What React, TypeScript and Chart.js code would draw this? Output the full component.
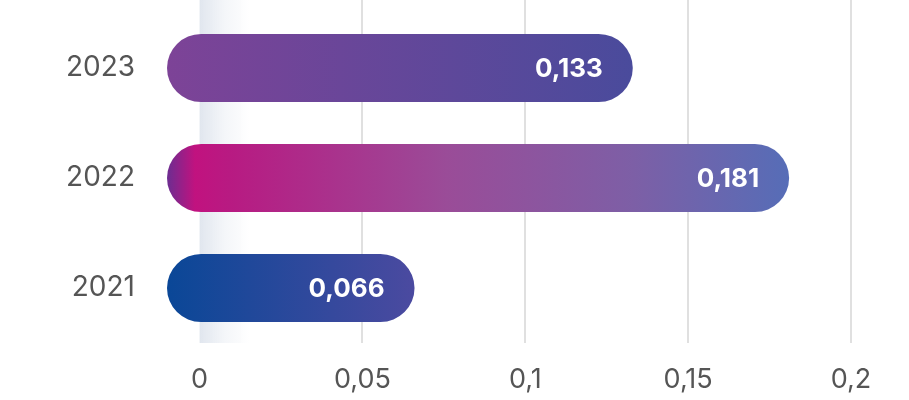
import React, { useEffect, useRef } from "react";
import { Chart, registerables } from "chart.js";

Chart.register(...registerables);

const categories = ["2023", "2022", "2021"];
const values = [0.133, 0.181, 0.066];
const xTickValues = [0, 0.05, 0.1, 0.15, 0.2];
const X_MIN = -0.01;
const X_MAX = 0.2;

const gradientStops: [number, string][][] = [
  [
    [0, "#7d4397"],
    [1, "#4a4b9c"],
  ],
  [
    [0, "#6c2d91"],
    [0.045, "#c1127f"],
    [0.1, "#b81a82"],
    [0.45, "#9a4c98"],
    [0.75, "#7d5fa6"],
    [1, "#566db7"],
  ],
  [
    [0, "#0a4797"],
    [1, "#4b4aa0"],
  ],
];

const fmt = (v: number) => String(v).replace(".", ",");

const FONT = "Inter, 'Noto Sans', sans-serif";

export default function App() {
  const ref = useRef<HTMLCanvasElement | null>(null);

  useEffect(() => {
    document.body.style.margin = "0";
    const canvas = ref.current;
    if (!canvas) return;

    const decor = {
      id: "decor",
      beforeDatasetsDraw(chart: any) {
        const { ctx, chartArea, scales } = chart;
        const xs = scales.x;
        const x0 = xs.getPixelForValue(0);
        ctx.save();
        const g = ctx.createLinearGradient(x0, 0, x0 + 50, 0);
        g.addColorStop(0, "rgba(200,210,225,0.55)");
        g.addColorStop(0.5, "rgba(200,210,225,0.2)");
        g.addColorStop(1, "rgba(200,210,225,0)");
        ctx.fillStyle = g;
        ctx.fillRect(x0, 0, 50, chartArea.bottom);
        ctx.strokeStyle = "#e0e0e0";
        ctx.lineWidth = 2;
        xTickValues.forEach((v) => {
          if (v === 0) return;
          const x = Math.round(xs.getPixelForValue(v));
          ctx.beginPath();
          ctx.moveTo(x, 0);
          ctx.lineTo(x, chartArea.bottom);
          ctx.stroke();
        });
        ctx.restore();
      },
      afterDatasetsDraw(chart: any) {
        const { ctx } = chart;
        const meta = chart.getDatasetMeta(0);
        ctx.save();
        ctx.fillStyle = "#ffffff";
        ctx.font = `700 26px ${FONT}`;
        ctx.textAlign = "right";
        ctx.textBaseline = "middle";
        meta.data.forEach((el: any, i: number) => {
          ctx.fillText(fmt(values[i]), el.x - 30, el.y + 1);
        });
        ctx.restore();
      },
    };

    const chart = new Chart(canvas, {
      type: "bar",
      data: {
        labels: categories,
        datasets: [
          {
            data: values,
            base: X_MIN,
            barPercentage: 0.62,
            categoryPercentage: 1,
            borderRadius: 40,
            borderSkipped: false,
            backgroundColor: (c: any) => {
              const chart = c.chart;
              const { chartArea, scales } = chart;
              if (!chartArea || !scales.x || c.dataIndex === undefined) return "#7d4397";
              const x0 = scales.x.getPixelForValue(X_MIN);
              const x1 = scales.x.getPixelForValue(values[c.dataIndex]);
              const g = chart.ctx.createLinearGradient(x0, 0, x1, 0);
              gradientStops[c.dataIndex].forEach(([o, col]) => g.addColorStop(o, col));
              return g;
            },
          } as any,
        ],
      },
      options: {
        indexAxis: "y",
        animation: false,
        responsive: false,
        maintainAspectRatio: false,
        layout: { padding: { top: 13, right: 58, left: 0, bottom: 0 } },
        plugins: {
          legend: { display: false },
          tooltip: { enabled: false },
        },
        scales: {
          x: {
            type: "linear",
            min: X_MIN,
            max: X_MAX,
            grid: { display: false, drawTicks: false },
            border: { display: false },
            afterBuildTicks: (s: any) => {
              s.ticks = xTickValues.map((v) => ({ value: v }));
            },
            afterFit: (s: any) => {
              s.height = 57;
              s.paddingLeft = 0;
              s.paddingRight = 0;
            },
            ticks: {
              padding: 21,
              color: "#555555",
              font: { family: FONT, size: 27 },
              callback: (v: any) => fmt(Number(v)),
              maxRotation: 0,
            },
          },
          y: {
            grid: { display: false, drawTicks: false },
            border: { display: false },
            afterFit: (s: any) => {
              s.width = 167;
              s.paddingTop = 0;
              s.paddingBottom = 0;
            },
            ticks: {
              padding: 32,
              color: "#555555",
              font: { family: FONT, size: 28 },
            },
          },
        },
      },
      plugins: [decor],
    } as any);

    return () => chart.destroy();
  }, []);

  return (
    <div style={{ position: "fixed", left: 0, top: 0, width: 909, height: 400, background: "#fff" }}>
      <canvas ref={ref} width={909} height={400} style={{ width: 909, height: 400 }} />
    </div>
  );
}
